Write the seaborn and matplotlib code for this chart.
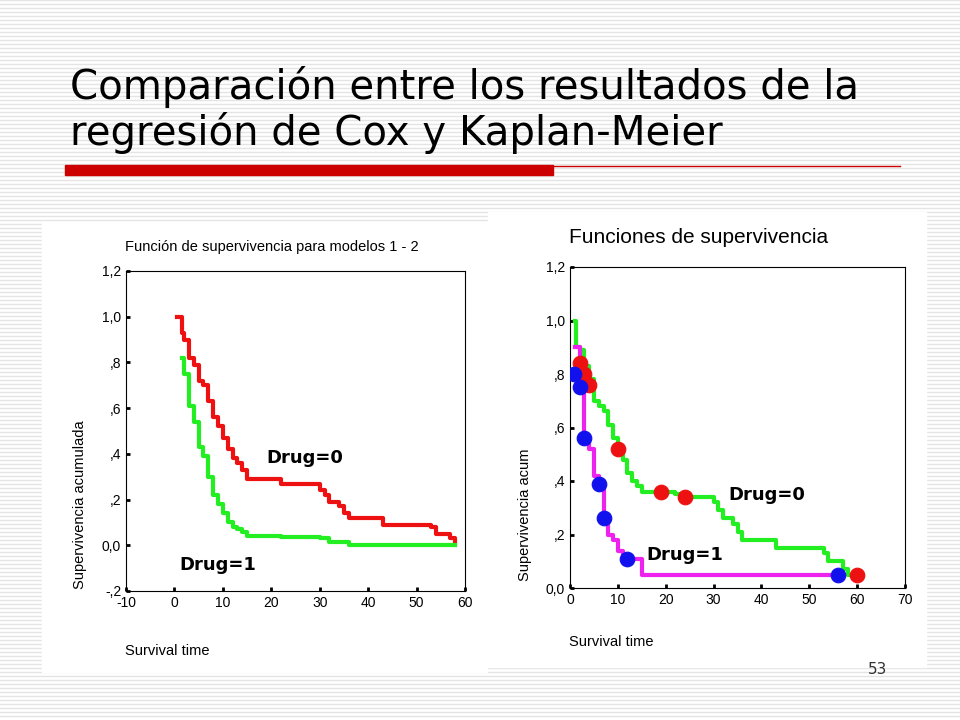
import matplotlib
matplotlib.use("Agg")
import matplotlib.pyplot as plt
import seaborn as sns

# Left panel: Cox model survival curves
cox_t0 = [0.5, 1.5, 2, 3, 4, 5, 6, 7, 8, 9, 10, 11, 12, 13, 14, 15, 22, 30, 31, 32, 34, 35, 36, 43, 53, 54, 57, 58]
cox_s0 = [1.0, 0.93, 0.9, 0.82, 0.79, 0.72, 0.7, 0.63, 0.56, 0.52, 0.47, 0.42, 0.38, 0.36, 0.33, 0.29, 0.27, 0.24, 0.22,
          0.19, 0.17, 0.14, 0.12, 0.09, 0.08, 0.05, 0.03, 0.01]
cox_t1 = [1.5, 2, 3, 4, 5, 6, 7, 8, 9, 10, 11, 12, 13, 14, 15, 22, 30, 32, 36, 58]
cox_s1 = [0.82, 0.75, 0.61, 0.54, 0.43, 0.39, 0.3, 0.22, 0.18, 0.14, 0.1, 0.08, 0.07, 0.06, 0.04, 0.035, 0.03, 0.015,
          0.0, 0.0]

# Right panel: Kaplan-Meier curves and censored points
km_t0 = [1, 1.3, 2, 3, 4, 5, 6, 7, 8, 9, 10, 11, 12, 13, 14, 15, 22, 23, 30, 31, 32, 34, 35, 36, 43, 53, 54, 57, 58, 59]
km_s0 = [1.0, 0.9, 0.89, 0.83, 0.78, 0.7, 0.68, 0.66, 0.61, 0.56, 0.52, 0.48, 0.43, 0.4, 0.38, 0.36, 0.35, 0.34, 0.32,
         0.29, 0.26, 0.24, 0.21, 0.18, 0.15, 0.13, 0.1, 0.07, 0.05, 0.05]
km_t1 = [1, 2, 3, 4, 5, 6, 7, 8, 9, 10, 11, 15, 56]
km_s1 = [0.9, 0.8, 0.56, 0.52, 0.42, 0.39, 0.26, 0.2, 0.18, 0.14, 0.11, 0.05, 0.05]
cens_t0 = [2, 3, 4, 10, 19, 24, 60]
cens_s0 = [0.84, 0.80, 0.76, 0.52, 0.36, 0.34, 0.05]
cens_t1 = [0.8, 2, 3, 6, 7, 12, 56]
cens_s1 = [0.80, 0.75, 0.56, 0.39, 0.26, 0.11, 0.05]

W, H = 960, 720
fig = plt.figure(figsize=(9.6, 7.2), dpi=100)
fig.patch.set_facecolor("white")

# striped slide background
bg = fig.add_axes([0, 0, 1, 1], zorder=-10)
bg.set_xlim(0, W)
bg.set_ylim(H, 0)
bg.axis("off")
for y in range(0, H, 4):
    bg.axhline(y, color="#e4e4e4", lw=1, zorder=1)
bg.add_patch(plt.Rectangle((42, 222), 445, 450, color="white", zorder=3))
bg.add_patch(plt.Rectangle((488, 212), 438, 455, color="white", zorder=3))
bg.add_patch(plt.Rectangle((65, 165), 488, 10, color="#cc0000", zorder=3))
bg.plot([553, 900], [165.5, 165.5], color="#cc0000", lw=1, zorder=3)
bg.text(70, 87, "Comparación entre los resultados de la", fontsize=29, va="center", color="black")
bg.text(70, 133, "regresión de Cox y Kaplan-Meier", fontsize=29, va="center", color="black")
bg.text(887, 670, "53", fontsize=11, ha="right", va="center", color="#333333")

font = "Liberation Sans"
ylab = {-0.2: "-,2", 0.0: "0,0", 0.2: ",2", 0.4: ",4", 0.6: ",6", 0.8: ",8", 1.0: "1,0", 1.2: "1,2"}


def px_axes(x0, x1, y0, y1):
    return fig.add_axes([x0 / W, 1 - y1 / H, (x1 - x0) / W, (y1 - y0) / H])


def style(ax, xticks, yticks):
    ax.set_xticks(xticks)
    ax.set_yticks(yticks)
    ax.set_xticklabels([str(t) for t in xticks], fontname=font, fontsize=10)
    ax.set_yticklabels([ylab[round(v, 1)] for v in yticks], fontname=font, fontsize=10)
    ax.tick_params(direction="in", length=3, width=2)
    ax.set_xlabel("")
    ax.set_ylabel("")


# left panel
ax1 = px_axes(126, 465, 271, 591)
sns.lineplot(x=cox_t0, y=cox_s0, drawstyle="steps-post", color="#ee1111", lw=3, ax=ax1)
sns.lineplot(x=cox_t1, y=cox_s1, drawstyle="steps-post", color="#22ee22", lw=3, ax=ax1)
ax1.set_xlim(-10, 60)
ax1.set_ylim(-0.2, 1.2)
style(ax1, [-10, 0, 10, 20, 30, 40, 50, 60], [-0.2, 0.0, 0.2, 0.4, 0.6, 0.8, 1.0, 1.2])
ax1.text(19, 0.36, "Drug=0", fontsize=13, fontweight="bold")
ax1.text(1, -0.11, "Drug=1", fontsize=13, fontweight="bold")
fig.text(125 / W, 1 - 247 / H, "Función de supervivencia para modelos 1 - 2", fontname=font, fontsize=10.5, va="center")
fig.text(125 / W, 1 - 651 / H, "Survival time", fontname=font, fontsize=10.5, va="center")
fig.text(80 / W, 1 - 505 / H, "Supervivencia acumulada", fontname=font, fontsize=10.5, rotation=90, ha="center", va="center")

# right panel
ax2 = px_axes(570, 905, 267, 588)
sns.lineplot(x=km_t0, y=km_s0, drawstyle="steps-post", color="#22ee22", lw=3, ax=ax2)
sns.lineplot(x=km_t1, y=km_s1, drawstyle="steps-post", color="#ee22ee", lw=3, ax=ax2)
sns.scatterplot(x=cens_t0, y=cens_s0, color="#ee1111", s=110, edgecolor="#ee1111", ax=ax2, zorder=5)
sns.scatterplot(x=cens_t1, y=cens_s1, color="#1111ee", s=110, edgecolor="#1111ee", ax=ax2, zorder=5)
ax2.set_xlim(0, 70)
ax2.set_ylim(0, 1.2)
style(ax2, [0, 10, 20, 30, 40, 50, 60, 70], [0.0, 0.2, 0.4, 0.6, 0.8, 1.0, 1.2])
ax2.text(33, 0.33, "Drug=0", fontsize=13, fontweight="bold")
ax2.text(16, 0.105, "Drug=1", fontsize=13, fontweight="bold")
fig.text(569 / W, 1 - 238 / H, "Funciones de supervivencia", fontname=font, fontsize=15, va="center")
fig.text(569 / W, 1 - 642 / H, "Survival time", fontname=font, fontsize=10.5, va="center")
fig.text(525 / W, 1 - 515 / H, "Supervivencia acum", fontname=font, fontsize=10.5, rotation=90, ha="center", va="center")

fig.savefig("out.png", dpi=100)
